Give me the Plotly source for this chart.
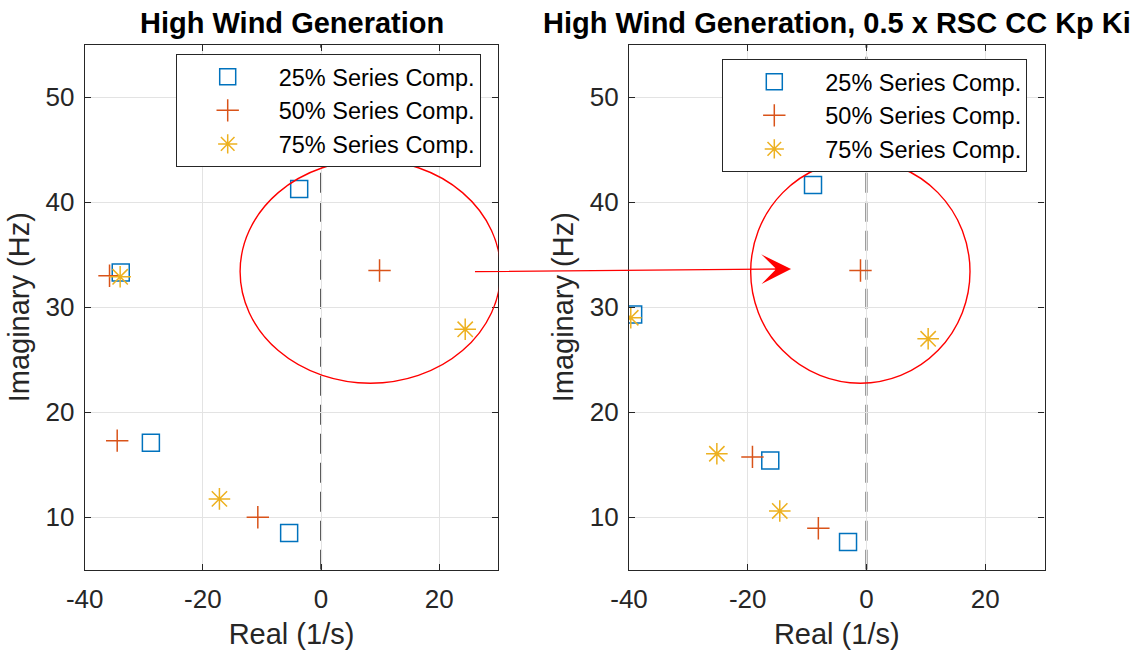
import plotly.graph_objects as go

# ---- pole locations (real part in 1/s, imaginary part in Hz) ----
left_25_re = [-33.9, -3.7, -28.8, -5.4]
left_25_im = [33.3, 41.25, 17.1, 8.5]
left_50_re = [-35.8, 9.9, -34.5, -10.7]
left_50_im = [33.0, 33.5, 17.3, 10.0]
left_75_re = [-34.0, 24.4, -17.2]
left_75_im = [32.9, 27.9, 11.75]

right_25_re = [-39.3, -9.0, -16.2, -3.1]
right_25_im = [29.3, 41.65, 15.4, 7.65]
right_50_re = [-1.0, -19.2, -8.1]
right_50_im = [33.5, 15.75, 8.95]
right_75_re = [-39.7, 10.4, -25.2, -14.6]
right_75_im = [29.0, 27.0, 16.05, 10.6]

series_names = ["25% Series Comp.", "50% Series Comp.", "75% Series Comp."]
titles = ["High Wind Generation", "High Wind Generation, 0.5 x RSC CC Kp Ki"]

x_tickvals = [-40, -20, 0, 20]
x_ticktext = ["-40", "-20", "0", "20"]
y_tickvals = [10, 20, 30, 40, 50]
y_ticktext = ["10", "20", "30", "40", "50"]

# highlighted regions (ellipses) around the oscillatory mode
left_ring = dict(x0=-13.7, x1=30.4, y0=22.76, y1=44.03)
right_ring = dict(x0=-19.5, x1=17.45, y0=22.76, y1=44.03)

FONT = "Liberation Sans, Arial, sans-serif"
AX = "#262626"
BLUE, RED, GOLD = "#0072BD", "#D95319", "#EDB120"

W, H = 1140, 653
# axes boxes in pixels: (left, right, top, bottom)
boxL = (84.7, 498.3, 44.7, 569.8)
boxR = (629.0, 1044.5, 44.7, 569.8)


def dom_x(b):
    return [b[0] / W, b[1] / W]


def dom_y(b):
    return [(H - b[3]) / H, (H - b[2]) / H]


fig = go.Figure()

styles = [
    dict(symbol="square-open", size=17, color=BLUE, line=dict(width=1.5, color=BLUE)),
    dict(symbol="cross-thin-open", size=16, color=RED, line=dict(width=1.5, color=RED)),
    dict(symbol="asterisk-open", size=18, color=GOLD, line=dict(width=1.5, color=GOLD)),
]

left_sets = [(left_25_re, left_25_im), (left_50_re, left_50_im), (left_75_re, left_75_im)]
right_sets = [(right_25_re, right_25_im), (right_50_re, right_50_im), (right_75_re, right_75_im)]

for i, (re, im) in enumerate(left_sets):
    fig.add_trace(go.Scatter(x=re, y=im, mode="markers", name=series_names[i],
                             marker=styles[i], xaxis="x", yaxis="y", legend="legend"))
for i, (re, im) in enumerate(right_sets):
    fig.add_trace(go.Scatter(x=re, y=im, mode="markers", name=series_names[i],
                             marker=styles[i], xaxis="x2", yaxis="y2", legend="legend2"))

# dashed imaginary axis (Re = 0) and ellipses
shapes = []
for xr, yr in (("x", "y"), ("x2", "y2")):
    shapes.append(dict(type="line", xref=xr, yref=yr, x0=0, x1=0, y0=5, y1=55,
                       line=dict(color="#555555", width=2, dash="20px,9px"), layer="below"))
for ring, (xr, yr) in ((left_ring, ("x", "y")), (right_ring, ("x2", "y2"))):
    shapes.append(dict(type="circle", xref=xr, yref=yr, **ring,
                       line=dict(color="#FF0000", width=1.4)))

annotations = [
    # arrow from the left ellipse to the right one
    dict(xref="x2", yref="y2", axref="x2", ayref="y2", x=-12.7, y=33.65, ax=-66.2, ay=33.39,
         text="", showarrow=True, arrowhead=3, arrowsize=3.8, arrowwidth=1.3,
         arrowcolor="#FF0000", standoff=0),
]
for b, t in ((boxL, titles[0]), (boxR, titles[1])):
    annotations.append(dict(xref="paper", yref="paper", x=(b[0] + b[1]) / 2 / W, y=(H - 23) / H,
                            text="<b>" + t + "</b>", showarrow=False, xanchor="center",
                            yanchor="middle", font=dict(family=FONT, size=29, color="#000000")))

axis_common = dict(
    showline=True, linecolor=AX, linewidth=1.2, mirror="ticks",
    ticks="inside", ticklen=6, tickwidth=1.2, tickcolor=AX,
    showgrid=True, gridcolor="#e3e3e3", gridwidth=1, zeroline=False,
    tickfont=dict(family=FONT, size=26, color=AX), automargin=False,
)

xaxis_common = dict(axis_common, range=[-40, 30], tickmode="array",
                    tickvals=x_tickvals, ticktext=x_ticktext, ticklabelstandoff=6,
                    title=dict(text="Real (1/s)", font=dict(family=FONT, size=29, color=AX), standoff=10))
yaxis_common = dict(axis_common, range=[5, 55], tickmode="array",
                    tickvals=y_tickvals, ticktext=y_ticktext, ticklabelstandoff=4,
                    title=dict(text="Imaginary (Hz)", font=dict(family=FONT, size=29, color=AX), standoff=7))

legend_common = dict(
    bgcolor="#ffffff", bordercolor=AX, borderwidth=1,
    font=dict(family=FONT, size=23.5, color="#000000"),
    itemwidth=92, xanchor="left", yanchor="top", itemclick=False,
)

fig.update_layout(
    width=W, height=H,
    margin=dict(l=0, r=0, t=0, b=0, autoexpand=False),
    paper_bgcolor="#ffffff", plot_bgcolor="#ffffff",
    xaxis=dict(xaxis_common, domain=dom_x(boxL), anchor="y"),
    yaxis=dict(yaxis_common, domain=dom_y(boxL), anchor="x"),
    xaxis2=dict(xaxis_common, domain=dom_x(boxR), anchor="y2"),
    yaxis2=dict(yaxis_common, domain=dom_y(boxR), anchor="x2"),
    legend=dict(legend_common, x=175.7 / W, y=(H - 54) / H),
    legend2=dict(legend_common, x=722.3 / W, y=(H - 59) / H),
    shapes=shapes,
    annotations=annotations,
    showlegend=True,
)

fig.write_html("out.html")
